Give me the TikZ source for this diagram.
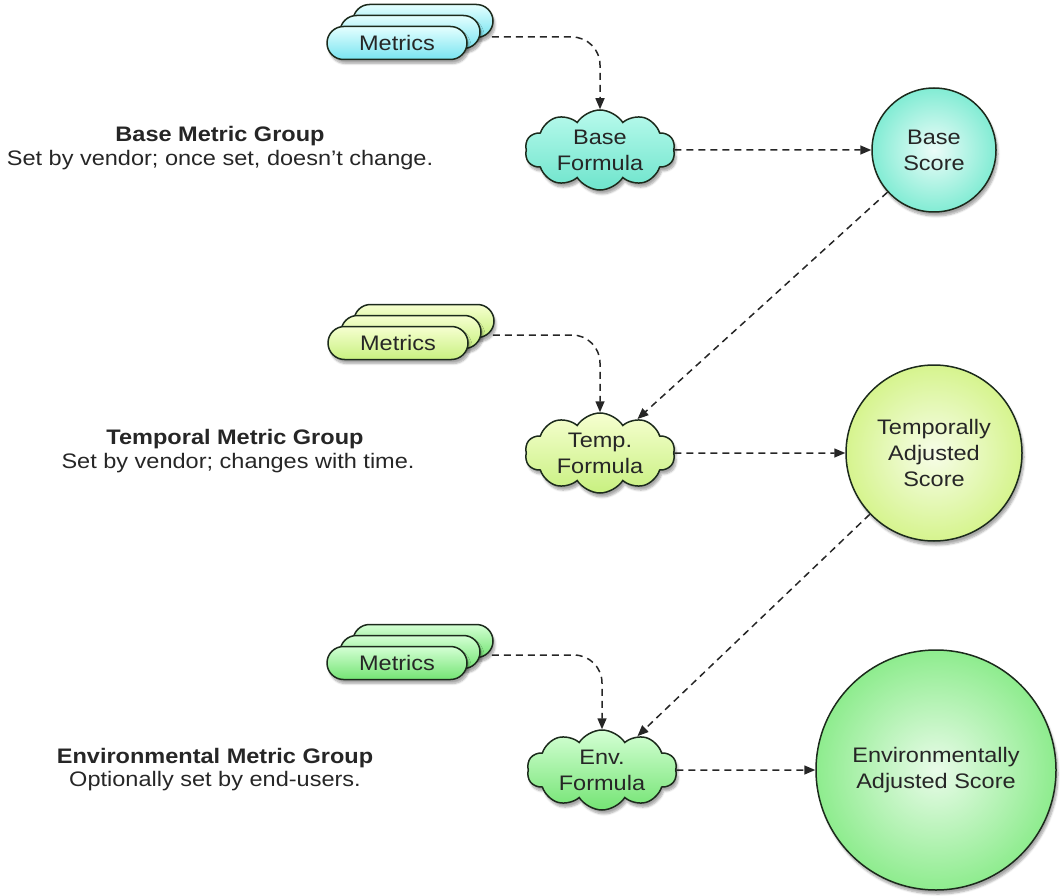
\documentclass[tikz,border=0pt]{standalone}
\usepackage{fontspec}
\setmainfont{Liberation Sans}[FakeStretch=1.12]
\usetikzlibrary{shapes.symbols,shapes.misc,shadows.blur,arrows.meta,calc}
\definecolor{edge}{HTML}{1C2A1C}
\definecolor{cyanT}{HTML}{E4FFFF}\definecolor{cyanB}{HTML}{78E4F0}
\definecolor{aquaT}{HTML}{B8FAEC}\definecolor{aquaB}{HTML}{6EE4CC}
\definecolor{aquaO}{HTML}{82ECD4}
\definecolor{limeT}{HTML}{F6FFD0}\definecolor{limeB}{HTML}{C8F080}
\definecolor{limeO}{HTML}{D6F48E}
\definecolor{grnT}{HTML}{D4FFD4}\definecolor{grnB}{HTML}{74E474}
\definecolor{grnO}{HTML}{8EEC8E}
\begin{document}
\begin{tikzpicture}[x=1pt,y=-1pt,
  every node/.style={font=\fontsize{21}{26}\selectfont, text=black!85},
  shad/.style={blur shadow={shadow xshift=2pt,shadow yshift=-4pt,shadow blur steps=6,shadow opacity=35}},
  pill/.style={rounded rectangle, draw=edge, line width=1.5pt, minimum width=140pt,
    minimum height=33pt, inner sep=0pt, shad},
  formula/.style={cloud, cloud puffs=10, cloud puff arc=115, cloud ignores aspect,
    draw=edge, line width=1.5pt, minimum width=150pt, minimum height=80pt,
    inner sep=0pt, align=center, shad},
  score/.style={circle, draw=edge, line width=1.5pt, inner sep=0pt, align=center,
    shading=radial, shad},
  dasharrow/.style={line width=1.5pt, dash pattern=on 7pt off 5pt, draw=black!85,
    -{Triangle[length=11pt,width=9pt]}},
  label/.style={anchor=base, inner sep=0pt}]
\useasboundingbox (0,0) rectangle (1060,896);

% ---- Base group ----
\node[pill, top color=cyanT, bottom color=cyanB] (m1c) at (423,21) {};
\node[pill, top color=cyanT, bottom color=cyanB] (m1b) at (410,32) {};
\node[pill, top color=cyanT, bottom color=cyanB] (m1a) at (397,43) {Metrics};
\node[formula, top color=aquaT, bottom color=aquaB] (bf) at (600,150) {Base\\Formula};
\node[score, inner color=white!85!aquaO, outer color=aquaO, minimum size=124pt] (bs) at (934,150) {Base\\Score};
\node[label] (bl1) at (220,142) {\textbf{Base Metric Group}};
\node[label] (bl2) at (220,166) {Set by vendor; once set, doesn't change.};

% ---- Temporal group ----
\node[pill, top color=limeT, bottom color=limeB] (m2c) at (424,321) {};
\node[pill, top color=limeT, bottom color=limeB] (m2b) at (411,332) {};
\node[pill, top color=limeT, bottom color=limeB] (m2a) at (398,343) {Metrics};
\node[formula, top color=limeT, bottom color=limeB] (tf) at (600,453) {Temp.\\Formula};
\node[score, inner color=white!80!limeO, outer color=limeO, minimum size=176pt] (tas) at (934,453) {Temporally\\Adjusted\\Score};
\node[label] (tl1) at (235,444) {\textbf{Temporal Metric Group}};
\node[label] (tl2) at (238,468) {Set by vendor; changes with time.};

% ---- Environmental group ----
\node[pill, top color=grnT, bottom color=grnB] (m3c) at (423,641) {};
\node[pill, top color=grnT, bottom color=grnB] (m3b) at (410,652) {};
\node[pill, top color=grnT, bottom color=grnB] (m3a) at (397,663) {Metrics};
\node[formula, top color=grnT, bottom color=grnB] (ef) at (602,770) {Env.\\Formula};
\node[score, inner color=white!80!grnO, outer color=grnO, minimum size=240pt] (eas) at (936,770) {Environmentally\\Adjusted Score};
\node[label] (el1) at (215,763) {\textbf{Environmental Metric Group}};
\node[label] (el2) at (215,786) {Optionally set by end-users.};

% ---- connectors ----
\coordinate (m1o) at ($(m1c.east)+(-2,16)$);
\coordinate (m2o) at ($(m2c.east)+(-2,14)$);
\coordinate (m3o) at ($(m3c.east)+(-2,14)$);
\draw[dasharrow, rounded corners=28pt] (m1o) -| (bf.north);
\draw[dasharrow, rounded corners=28pt] (m2o) -| (tf.north);
\draw[dasharrow, rounded corners=28pt] (m3o) -| (ef.north);
\draw[dasharrow] (bf.east) -- (bs.west);
\draw[dasharrow] (tf.east) -- (tas.west);
\draw[dasharrow] (ef.east) -- (eas.west);
\draw[dasharrow] (bs) -- (tf);
\draw[dasharrow] (tas) -- (ef);
\end{tikzpicture}
\end{document}
